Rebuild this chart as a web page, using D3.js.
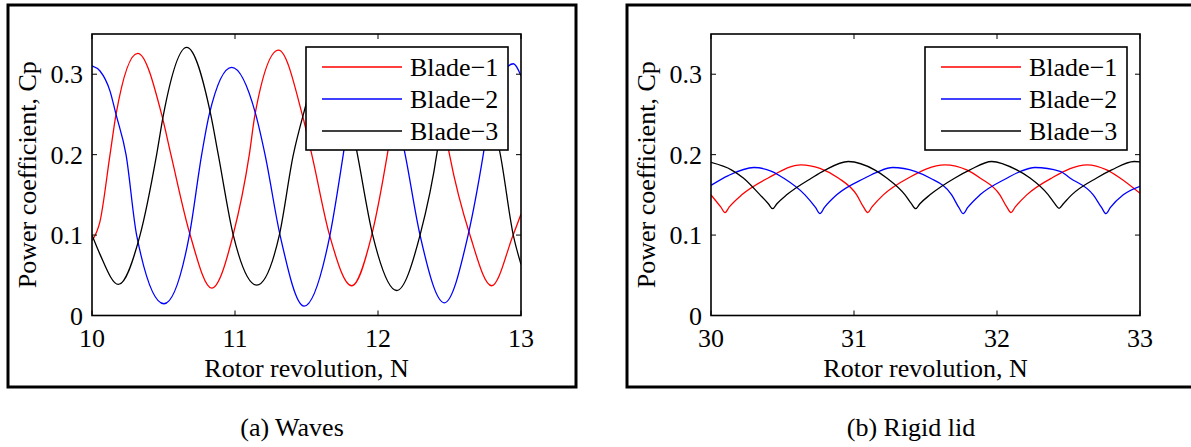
<!DOCTYPE html>
<html>
<head>
<meta charset="utf-8">
<script src="https://cdn.jsdelivr.net/npm/d3@7"></script>
<style>
  body { margin: 0; background: #fff; }
  svg { display: block; font-family: "Liberation Serif", "Times New Roman", serif; }
  .tick-label, .axis-title, .legend-text, .caption { font-size: 26px; fill: #000; }
</style>
</head>
<body>
<svg id="chart" width="1191" height="447"></svg>
<script>
// Series names and colours
const bladeNames = ["Blade\u22121", "Blade\u22122", "Blade\u22123"];
const bladeColors = ["#ff0000", "#0000ff", "#000000"];

// Ticks
const xTicksWaves = [10, 11, 12, 13];
const xTicksLid = [30, 31, 32, 33];
const yTicks = [0, 0.1, 0.2, 0.3];

// (a) Waves : [N, Cp]
const wavesBlade1 = [
    [10.0, 0.093], [10.056, 0.117], [10.126, 0.200], [10.168, 0.250], [10.32, 0.326],
    [10.487, 0.250], [10.552, 0.200], [10.685, 0.101], [10.837, 0.034], [10.988, 0.101],
    [11.10, 0.200], [11.14, 0.250], [11.305, 0.330], [11.47, 0.250], [11.537, 0.200],
    [11.664, 0.098], [11.816, 0.037], [11.956, 0.100], [12.065, 0.200], [12.11, 0.250],
    [12.29, 0.330], [12.45, 0.250], [12.50, 0.200], [12.643, 0.100], [12.795, 0.037],
    [12.945, 0.100], [13.0, 0.126]
];
const wavesBlade2 = [
    [10.0, 0.3105], [10.056, 0.304], [10.126, 0.279], [10.168, 0.250], [10.238, 0.200],
    [10.312, 0.100], [10.503, 0.0146], [10.681, 0.100], [10.767, 0.200], [10.82, 0.250],
    [10.977, 0.3085], [11.145, 0.250], [11.21, 0.200], [11.315, 0.100], [11.483, 0.0116],
    [11.664, 0.100], [11.757, 0.200], [11.80, 0.250], [11.97, 0.310], [12.13, 0.250],
    [12.19, 0.200], [12.294, 0.100], [12.464, 0.0158], [12.63, 0.100], [12.736, 0.200],
    [12.78, 0.250], [12.947, 0.313], [13.0, 0.298]
];
const wavesBlade3 = [
    [10.0, 0.100], [10.056, 0.076], [10.184, 0.0386], [10.336, 0.100], [10.452, 0.200],
    [10.50, 0.250], [10.662, 0.3334], [10.83, 0.250], [10.883, 0.200], [10.988, 0.100],
    [11.152, 0.0378], [11.31, 0.100], [11.408, 0.200], [11.478, 0.250], [11.635, 0.330],
    [11.80, 0.250], [11.851, 0.205], [11.963, 0.100], [12.131, 0.0311], [12.294, 0.100],
    [12.415, 0.205], [12.45, 0.250], [12.615, 0.330], [12.78, 0.250], [12.85, 0.205],
    [12.946, 0.100], [13.0, 0.0635]
];

// (b) Rigid lid : [N, Cp]
const lidBlade1 = [
    [30.0, 0.150], [30.068, 0.135], [30.098, 0.128], [30.128, 0.135], [30.215, 0.150],
    [30.40, 0.171], [30.63, 0.1874], [30.762, 0.183], [30.89, 0.171], [31.019, 0.150],
    [31.066, 0.135], [31.096, 0.128], [31.126, 0.135], [31.205, 0.150], [31.38, 0.171],
    [31.636, 0.1874], [31.788, 0.181], [31.881, 0.171], [32.02, 0.150], [32.068, 0.135],
    [32.098, 0.128], [32.128, 0.135], [32.208, 0.150], [32.383, 0.171], [32.63, 0.1874],
    [32.767, 0.181], [32.86, 0.171], [33.0, 0.152]
];
const lidBlade2 = [
    [30.0, 0.1618], [30.121, 0.174], [30.30, 0.184], [30.424, 0.1793], [30.506, 0.171],
    [30.657, 0.150], [30.732, 0.134], [30.762, 0.1266], [30.792, 0.134], [30.879, 0.150],
    [31.077, 0.171], [31.17, 0.179], [31.27, 0.184], [31.427, 0.1793], [31.531, 0.171],
    [31.683, 0.150], [31.734, 0.134], [31.764, 0.1266], [31.794, 0.134], [31.881, 0.150],
    [32.072, 0.171], [32.161, 0.179], [32.266, 0.184], [32.441, 0.1793], [32.51, 0.171],
    [32.673, 0.150], [32.732, 0.134], [32.762, 0.1266], [32.792, 0.134], [32.883, 0.150],
    [33.0, 0.1606]
];
const lidBlade3 = [
    [30.0, 0.1903], [30.145, 0.1808], [30.226, 0.171], [30.343, 0.150], [30.401, 0.139],
    [30.431, 0.1328], [30.461, 0.139], [30.529, 0.150], [30.704, 0.171], [30.797, 0.1808],
    [30.96, 0.1915], [31.147, 0.1808], [31.229, 0.171], [31.357, 0.150], [31.401, 0.139],
    [31.431, 0.1328], [31.461, 0.139], [31.531, 0.150], [31.706, 0.171], [31.811, 0.181],
    [31.963, 0.1915], [32.138, 0.181], [32.231, 0.171], [32.359, 0.150], [32.404, 0.139],
    [32.434, 0.1333], [32.464, 0.139], [32.522, 0.150], [32.697, 0.171], [32.802, 0.181],
    [32.96, 0.1915], [33.0, 0.191]
];

const svg = d3.select("#chart");

// Draws one framed panel (outer box, axes, curves, legend, caption).
function drawPanel(config, series) {
    const g = svg.append("g");

    // Outer frame
    g.append("rect")
        .attr("x", config.frameX).attr("y", 5)
        .attr("width", 568).attr("height", 382)
        .attr("fill", "none").attr("stroke", "#000").attr("stroke-width", 3);

    const left = config.plotX, right = config.plotX + 429, top = 34, bottom = 315.5;

    const x = d3.scaleLinear().domain(config.xDomain).range([left, right]);
    const y = d3.scaleLinear().domain([0, 0.35]).range([bottom, top]);

    const clipId = config.id + "-clip";
    g.append("clipPath").attr("id", clipId)
        .append("rect")
        .attr("x", left).attr("y", top)
        .attr("width", right - left).attr("height", bottom - top);

    // Curves
    const line = d3.line()
        .x(function(d) { return x(d[0]); })
        .y(function(d) { return y(d[1]); })
        .curve(d3.curveMonotoneX);

    g.append("g").attr("clip-path", "url(#" + clipId + ")")
        .selectAll(".curve")
        .data(series)
        .enter()
        .append("path")
        .attr("class", "curve")
        .attr("fill", "none")
        .attr("stroke", function(d, i) { return bladeColors[i]; })
        .attr("stroke-width", 1.3)
        .attr("d", line);

    // Inward ticks on all four sides (MATLAB style)
    const tickLen = 5;
    const ticks = g.append("g").attr("stroke", "#000").attr("stroke-width", 1);
    config.xTicks.forEach(function(t) {
        ticks.append("line").attr("x1", x(t)).attr("x2", x(t)).attr("y1", bottom).attr("y2", bottom - tickLen);
        ticks.append("line").attr("x1", x(t)).attr("x2", x(t)).attr("y1", top).attr("y2", top + tickLen);
    });
    yTicks.forEach(function(t) {
        ticks.append("line").attr("x1", left).attr("x2", left + tickLen).attr("y1", y(t)).attr("y2", y(t));
        ticks.append("line").attr("x1", right).attr("x2", right - tickLen).attr("y1", y(t)).attr("y2", y(t));
    });

    // Plot box
    g.append("rect")
        .attr("x", left).attr("y", top)
        .attr("width", right - left).attr("height", bottom - top)
        .attr("fill", "none").attr("stroke", "#000").attr("stroke-width", 1.6);

    // Tick labels
    g.selectAll(".x-label")
        .data(config.xTicks)
        .enter()
        .append("text")
        .attr("class", "tick-label")
        .attr("x", function(d) { return x(d); })
        .attr("y", 347)
        .attr("text-anchor", "middle")
        .text(function(d) { return d; });

    g.selectAll(".y-label")
        .data(yTicks)
        .enter()
        .append("text")
        .attr("class", "tick-label")
        .attr("x", left - 9)
        .attr("y", function(d) { return y(d) + 9; })
        .attr("text-anchor", "end")
        .text(function(d) { return d === 0 ? "0" : d3.format(".1f")(d); });

    // Axis titles
    g.append("text")
        .attr("class", "axis-title")
        .attr("x", (left + right) / 2)
        .attr("y", 377)
        .attr("text-anchor", "middle")
        .text("Rotor revolution, N");

    g.append("text")
        .attr("class", "axis-title")
        .attr("transform", "translate(" + (left - 56) + "," + ((top + bottom) / 2) + ") rotate(-90)")
        .attr("text-anchor", "middle")
        .text("Power coefficient, Cp");

    // Legend
    const lx = right - 215, ly = 47;
    const legend = g.append("g");
    legend.append("rect")
        .attr("x", lx).attr("y", ly)
        .attr("width", 202).attr("height", 103)
        .attr("fill", "#fff").attr("stroke", "#000").attr("stroke-width", 1.6);

    const rows = legend.selectAll(".legend-row")
        .data(bladeNames)
        .enter()
        .append("g")
        .attr("transform", function(d, i) { return "translate(0," + (ly + 20 + i * 32) + ")"; });

    rows.append("line")
        .attr("x1", lx + 16).attr("x2", lx + 96)
        .attr("y1", 0).attr("y2", 0)
        .attr("stroke", function(d, i) { return bladeColors[i]; })
        .attr("stroke-width", 1.3);

    rows.append("text")
        .attr("class", "legend-text")
        .attr("x", lx + 104)
        .attr("y", 9)
        .text(function(d) { return d; });

    // Caption under the frame
    g.append("text")
        .attr("class", "caption")
        .attr("x", config.frameX + 284)
        .attr("y", 436)
        .attr("text-anchor", "middle")
        .text(config.caption);
}

drawPanel({
    id: "waves",
    frameX: 8,
    plotX: 92,
    xDomain: [10, 13],
    xTicks: xTicksWaves,
    caption: "(a) Waves"
}, [wavesBlade1, wavesBlade2, wavesBlade3]);

drawPanel({
    id: "lid",
    frameX: 627,
    plotX: 711,
    xDomain: [30, 33],
    xTicks: xTicksLid,
    caption: "(b) Rigid lid"
}, [lidBlade1, lidBlade2, lidBlade3]);
</script>
</body>
</html>
